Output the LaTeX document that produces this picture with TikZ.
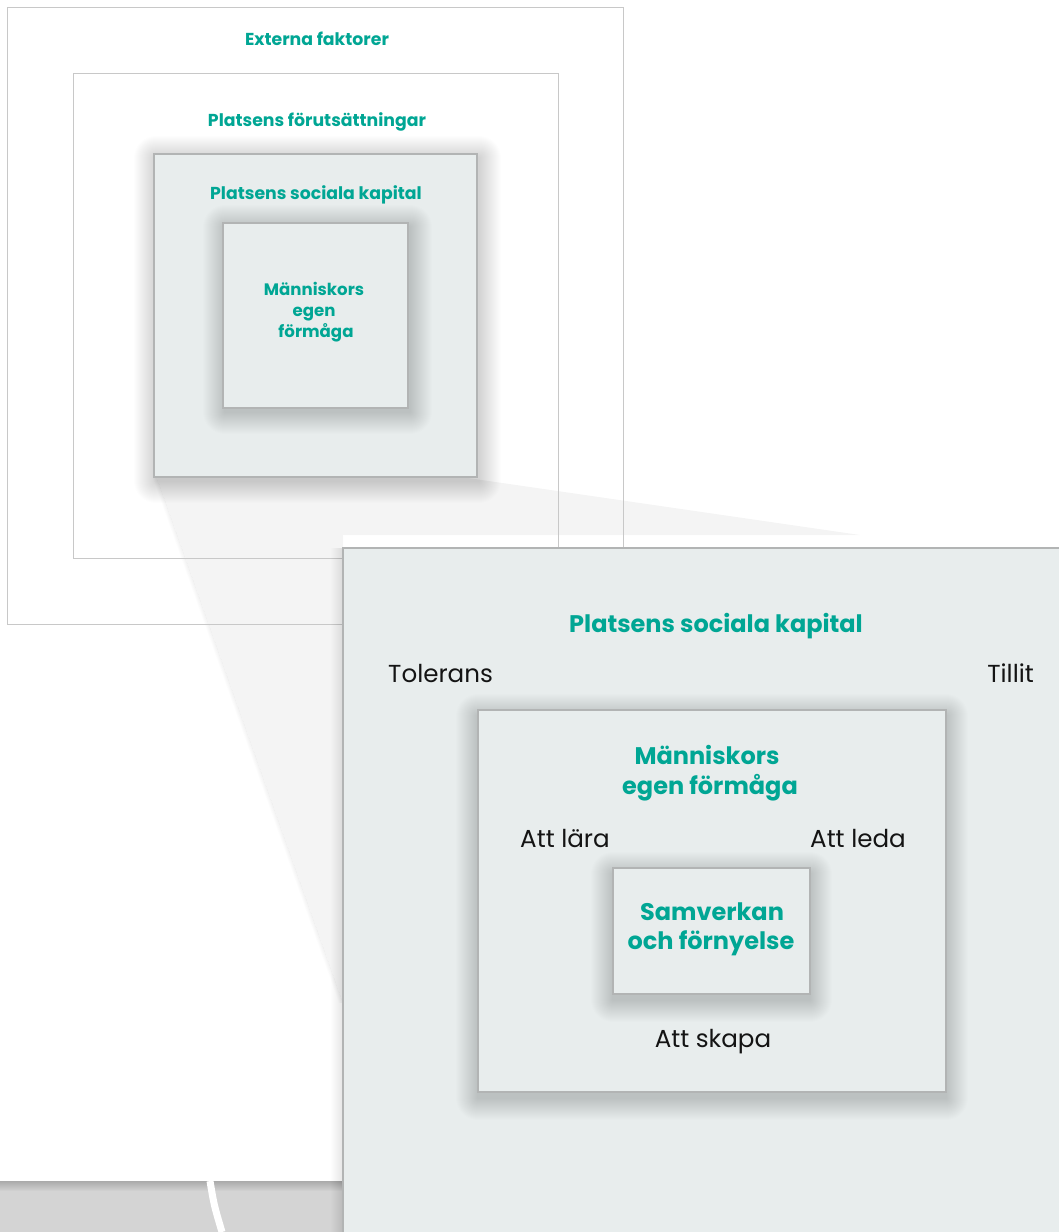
\documentclass[tikz,border=0pt]{standalone}
\usepackage{fontspec}
\setmainfont{Poppins}
\definecolor{tealc}{RGB}{0,166,148}
\definecolor{linegray}{RGB}{200,200,200}
\definecolor{cardedge}{RGB}{178,180,180}
\definecolor{cardfill}{RGB}{232,237,237}
\definecolor{stripgray}{RGB}{212,212,212}
\definecolor{labelblack}{RGB}{20,20,20}
\newcommand{\softshadow}[6]{%
  \foreach \i in {1,...,22}{%
    \fill[black,opacity=0.0095,rounded corners=\i pt]
      ({#1-\i+#5},{#2-\i+#6}) rectangle ({#3+\i+#5},{#4+\i+#6});}}
\tikzset{
  frame/.style={draw=linegray, line width=1pt, inner sep=0pt, outer sep=0pt, anchor=north west},
  card/.style={draw=cardedge, fill=cardfill, line width=1.3pt, inner sep=0pt, outer sep=0pt, anchor=north west},
  smallhead/.style={text=tealc, font=\fontsize{17.3}{20}\selectfont\bfseries, anchor=base, inner sep=0pt},
  tinyhead/.style={text=tealc, font=\fontsize{16.6}{20}\selectfont\bfseries, anchor=base, inner sep=0pt},
  bighead/.style={text=tealc, font=\fontsize{24}{29}\selectfont\bfseries, anchor=base, inner sep=0pt},
  lbl/.style={text=labelblack, font=\fontsize{24.6}{29}\selectfont, anchor=base, inner sep=0pt},
}
\begin{document}
\begin{tikzpicture}[x=1pt,y=-1pt]
\useasboundingbox (0,0) rectangle (1059,1232);
\fill[white] (0,0) rectangle (1059,1232);
% bottom strip
\fill[stripgray] (0,1181) rectangle (343,1232);
\foreach \i in {1,...,10}{\fill[black,opacity=0.02] (0,1181) rectangle (343,{1181+\i});}
\draw[white, line width=7pt] (210,1181) .. controls (214,1205) .. (222,1232);
% projection
\fill[black,opacity=0.045] (157,478) -- (468,478) -- (860,535) -- (343,535) -- (343,1003) -- cycle;
\foreach \i in {1,...,6}{\fill[black,opacity=0.006] (157,478) -- ({157-\i*0.7},478) -- ({343-\i*0.7},1003) -- (343,1003) -- cycle;}
\fill[white,opacity=0.85] (343,535) rectangle (1059,548);
% outer frames
\node[frame, minimum width=616pt, minimum height=617pt] (ext) at (7,7) {};
\node[frame, minimum width=485pt, minimum height=485pt] (forut) at (73,73) {};
\node[smallhead] (extT) at (317,45) {Externa faktorer};
\node[smallhead] (forutT) at (317,126) {Platsens förutsättningar};
% small social capital box
\softshadow{154}{154}{477}{477}{2}{4}
\node[card, minimum width=323pt, minimum height=323pt] (sk) at (154,154) {};
\node[smallhead] (skT) at (316,199) {Platsens sociala kapital};
\softshadow{223}{223}{408}{408}{2}{4}
\node[card, minimum width=185pt, minimum height=185pt] (mf) at (223,223) {};
\node[tinyhead] (mfT1) at (314,295) {Människors};
\node[tinyhead] (mfT2) at (314,316) {egen};
\node[tinyhead] (mfT3) at (316,337) {förmåga};
% big panel
\foreach \i in {1,...,12}{\fill[black,opacity=0.008] ({343-\i},548) rectangle (343,1232);}
\node[card, minimum width=760pt, minimum height=720pt] (panel) at (343,548) {};
\node[bighead] (panelT) at (716,632) {Platsens sociala kapital};
\node[lbl, anchor=base west] (tol) at (388,682) {Tolerans};
\node[lbl, anchor=base east] (till) at (1034,682) {Tillit};
\softshadow{478}{710}{946}{1092}{0}{6}
\node[card, minimum width=468pt, minimum height=382pt] (mfbig) at (478,710) {};
\node[bighead] (mfbigT1) at (707,764) {Människors};
\node[bighead] (mfbigT2) at (710,794) {egen förmåga};
\node[lbl] (lara) at (565,847) {Att lära};
\node[lbl] (leda) at (858,847) {Att leda};
\softshadow{613}{868}{810}{994}{0}{6}
\node[card, minimum width=197pt, minimum height=126pt] (sam) at (613,868) {};
\node[bighead] (samT1) at (712,920) {Samverkan};
\node[bighead] (samT2) at (711,949) {och förnyelse};
\node[lbl] (skapa) at (713,1047) {Att skapa};
\end{tikzpicture}
\end{document}
